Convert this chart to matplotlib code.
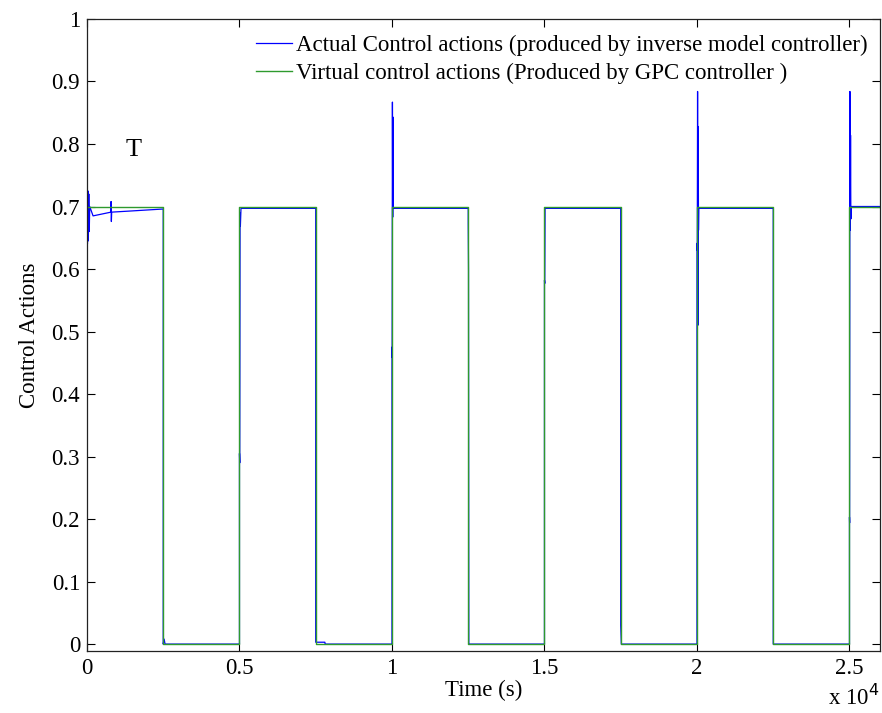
import matplotlib
matplotlib.use("Agg")
import matplotlib.pyplot as plt

# Virtual control actions (GPC) - square wave breakpoints
gpc_t = [0, 2500, 2500, 5000, 5000, 7500, 7500, 10000, 10000, 12500, 12500,
         15000, 15000, 17500, 17500, 20000, 20000, 22500, 22500, 25000, 25000, 26000]
gpc_u = [0.7, 0.7, 0, 0, 0.7, 0.7, 0, 0, 0.7, 0.7, 0,
         0, 0.7, 0.7, 0, 0, 0.7, 0.7, 0, 0, 0.7, 0.7]

# Actual control actions (inverse model controller)
act_t = [0, 0, 15, 30, 45, 60, 75, 90, 200, 790, 790, 800, 810, 1500, 2500,
         2500, 2530, 2560, 5000,
         5000, 5010, 5020, 5030, 5050, 7500,
         7500, 7800, 7810, 10000,
         10000, 10005, 10015, 10025, 10035, 10045, 12500,
         12500, 12510, 12520, 15000,
         15000, 15010, 15020, 17500,
         17500, 17520, 20000,
         20000, 20010, 20020, 20030, 20040, 20050, 20060, 22500,
         22500, 25000,
         25000, 25005, 25015, 25025, 25035, 25045, 25060, 26000]
act_u = [0, 0.80, 0.64, 0.725, 0.645, 0.72, 0.66, 0.70, 0.685, 0.691, 0.708, 0.676, 0.691, 0.693, 0.696,
         0.0, 0.008, 0.0, 0.0,
         0.305, 0.29, 0.69, 0.669, 0.697, 0.697,
         0.003, 0.003, 0.0, 0.0,
         0.475, 0.459, 0.867, 0.683, 0.843, 0.697, 0.697,
         0.673, 0.598, 0.0, 0.0,
         0.582, 0.577, 0.697, 0.697,
         0.03, 0.0, 0.0,
         0.641, 0.63, 0.884, 0.51, 0.828, 0.662, 0.697, 0.697,
         0.0, 0.0,
         0.203, 0.194, 0.884, 0.662, 0.814, 0.68, 0.7, 0.7]

plt.rcParams['font.family'] = ['Liberation Serif', 'DejaVu Serif']

fig = plt.figure(figsize=(8.82, 7.13), dpi=100)
ax = fig.add_axes([0.0986, 0.087, 0.8991, 0.8864])

ax.plot(act_t, act_u, color='#0000ff', lw=0.9,
        label='Actual Control actions (produced by inverse model controller)')
ax.plot(gpc_t, gpc_u, color='#2e9a2e', lw=1.0,
        label='Virtual control actions (Produced by GPC controller )')

ax.set_xlim(0, 26000)
ax.set_ylim(-0.011, 1)
ax.set_xticks([0, 5000, 10000, 15000, 20000, 25000])
ax.set_xticklabels(['0', '0.5', '1', '1.5', '2', '2.5'])
ax.set_yticks([0, 0.1, 0.2, 0.3, 0.4, 0.5, 0.6, 0.7, 0.8, 0.9, 1])
ax.set_yticklabels(['0', '0.1', '0.2', '0.3', '0.4', '0.5', '0.6', '0.7', '0.8', '0.9', '1'])
ax.tick_params(direction='in', top=True, right=True, labelsize=16.5, length=6, width=0.8, pad=5)
for s in ax.spines.values():
    s.set_linewidth(0.9)
    s.set_color('#222222')

ax.set_xlabel('Time (s)', fontsize=16.5, labelpad=1)
ax.set_ylabel('Control Actions', fontsize=16.5, labelpad=8)
ax.text(0.999, -0.073, r'x 10$^{4}$', transform=ax.transAxes, ha='right', va='center', fontsize=16.5)
ax.text(1250, 0.79, 'T', fontsize=19, va='center')

ax.legend(loc='upper left', bbox_to_anchor=(0.201, 0.989), frameon=False, fontsize=16.5,
          handlelength=1.6, handletextpad=0.15, borderaxespad=0, labelspacing=0.3)

fig.savefig('out.png', dpi=100)
